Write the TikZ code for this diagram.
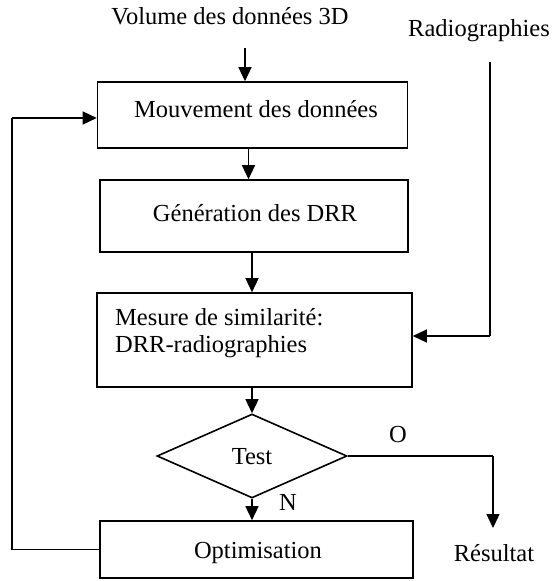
\documentclass[tikz,border=0pt]{standalone}
\usepackage{fontspec}
\setmainfont{Liberation Serif}
\usetikzlibrary{arrows.meta,shapes.geometric}
\begin{document}
\begin{tikzpicture}[x=1pt,y=-1pt,
  every node/.style={font=\fontsize{24.5}{29}\selectfont, inner sep=0pt},
  box/.style={draw, line width=1.6pt, rectangle, minimum width=#1},
  arr/.style={line width=1.4pt, -{Triangle[length=14pt,width=13pt]}},
  ln/.style={line width=1.4pt}]
\useasboundingbox (0,0) rectangle (553,581);
% texts outside
\node[anchor=base] (vol) at (230,24) {Volume des données 3D};
\node[anchor=base] (radio) at (479,36) {Radiographies};
% boxes
\node[box=310pt, minimum height=66pt] (b1) at (252.5,115) {};
\node[anchor=base] (t1) at (256,117) {Mouvement des données};
\node[box=308pt, minimum height=72pt] (b2) at (254,216) {};
\node[anchor=base] (t2) at (255,221) {Génération des DRR};
\node[box=315pt, minimum height=94pt] (b3) at (254.5,340) {};
\node[anchor=base west] (t3) at (115,325) {Mesure de similarité:};
\node[anchor=base west] (t3b) at (115,352) {DRR-radiographies};
\node[draw, line width=1.6pt, diamond, aspect=2.2, minimum width=190pt, minimum height=84pt] (test) at (252,456) {};
\node[anchor=base] (tt) at (252,464) {Test};
\node[box=313pt, minimum height=57pt] (opt) at (256.5,549.5) {};
\node[anchor=base] (to) at (258,558) {Optimisation};
\node[anchor=base] (res) at (494,561) {Résultat};
\node[anchor=base] (lo) at (398,442) {O};
\node[anchor=base] (ln) at (288,510) {N};
% coordinates
\coordinate (v0) at (245,48);
\coordinate (r0) at (490,62);
\coordinate (r1) at (490,336);
\coordinate (o1) at (493,456);
\coordinate (o2) at (493,528);
\coordinate (f1) at (12,549.5);
\coordinate (f2) at (12,118);
% connectors
\draw[arr] (v0) -- (v0 |- b1.north);
\draw[arr] ([xshift=-4pt]b1.south) -- ([xshift=-4pt]b1.south |- b2.north);
\draw[arr] ([xshift=-2pt]b2.south) -- ([xshift=-2pt]b2.south |- b3.north);
\draw[arr] (test.north |- b3.south) -- (test.north);
\draw[arr] (test.south) -- (test.south |- opt.north);
\draw[ln] (r0) -- (r1);
\draw[arr] (r1) -- (r1 -| b3.east);
\draw[ln] (test.east) -- (o1);
\draw[arr] (o1) -- (o2);
\draw[ln] (opt.west) -- (f1) -- (f2);
\draw[arr] (f2) -- (f2 -| b1.west);
\end{tikzpicture}
\end{document}
